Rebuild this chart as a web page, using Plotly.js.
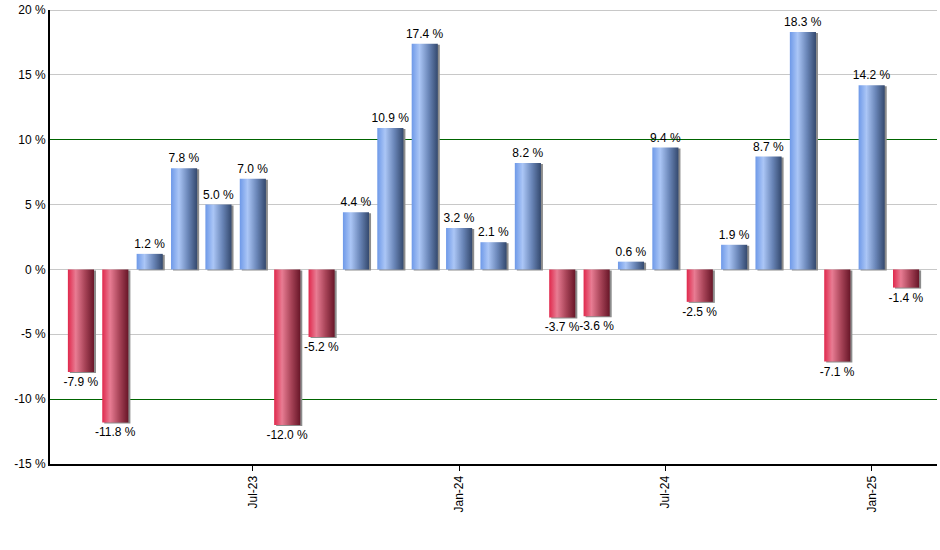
<!DOCTYPE html>
<html>
<head>
<meta charset="utf-8">
<script src="https://cdn.plot.ly/plotly-3.0.1.min.js"></script>
<style>
  body { margin: 0; background: #fff; }
  #chart { width: 940px; height: 550px; }
</style>
</head>
<body>
<div id="chart"></div>
<script>
// monthly returns, Feb-23 .. Feb-25
var months = ['Feb-23','Mar-23','Apr-23','May-23','Jun-23','Jul-23','Aug-23','Sep-23','Oct-23','Nov-23','Dec-23',
              'Jan-24','Feb-24','Mar-24','Apr-24','May-24','Jun-24','Jul-24','Aug-24','Sep-24','Oct-24','Nov-24','Dec-24',
              'Jan-25','Feb-25']
var returns = [-7.9, -11.8, 1.2, 7.8, 5.0, 7.0, -12.0, -5.2, 4.4, 10.9, 17.4,
               3.2, 2.1, 8.2, -3.7, -3.6, 0.6, 9.4, -2.5, 1.9, 8.7, 18.3, -7.1,
               14.2, -1.4]
var tick_months = ['Jul-23', 'Jan-24', 'Jul-24', 'Jan-25']
var y_ticks = [-15, -10, -5, 0, 5, 10, 15, 20]

var bars = {
	x: months,
	y: returns,
	type: 'bar',
	width: 0.76,
	text: returns.map(v => v.toFixed(1) + ' %'),
	textposition: 'outside',
	constraintext: 'none',
	cliponaxis: false,
	textfont: {family: 'Liberation Sans, Arial, sans-serif', size: 12, color: '#000'},
	marker: {color: returns.map(v => v < 0 ? '#c8304e' : '#6f94d8'), line: {width: 0}},
	hoverinfo: 'x+y'
}

// gridlines as shapes: gray, except the +/-10 guides in dark green
var grid_shapes = y_ticks.filter(v => v > -15).map(v => ({
	type: 'line', xref: 'paper', x0: 0, x1: 1, yref: 'y', y0: v, y1: v,
	line: {color: Math.abs(v) === 10 ? '#006400' : '#c8c8c8', width: 1},
	layer: 'below'
}))

var layout = {
	width: 940,
	height: 550,
	margin: {l: 50, r: 3, t: 10, b: 86},
	paper_bgcolor: '#fff',
	plot_bgcolor: '#fff',
	showlegend: false,
	font: {family: 'Liberation Sans, Arial, sans-serif', size: 12, color: '#000'},
	xaxis: {
		type: 'category',
		range: [-0.9, 24.9],
		tickvals: tick_months,
		ticktext: tick_months,
		tickangle: -90,
		ticks: 'outside',
		ticklen: 5,
		tickcolor: '#000',
		showline: true,
		linecolor: '#000',
		linewidth: 2,
		showgrid: false,
		tickfont: {size: 12}
	},
	yaxis: {
		range: [-15, 20],
		tickvals: y_ticks,
		ticktext: y_ticks.map(v => v + ' %'),
		showline: true,
		linecolor: '#000',
		linewidth: 2,
		showgrid: false,
		zeroline: false,
		ticks: '',
		tickfont: {size: 12}
	},
	shapes: grid_shapes
}

Plotly.newPlot('chart', [bars], layout, {displayModeBar: false, staticPlot: true}).then(function(gd){
	// horizontal "cylinder" gradients on the bars
	var svg = gd.querySelector('svg.main-svg')
	var ns = 'http://www.w3.org/2000/svg'
	var defs = svg.querySelector('defs') || svg.insertBefore(document.createElementNS(ns, 'defs'), svg.firstChild)
	function grad(id, stops){
		var g = document.createElementNS(ns, 'linearGradient')
		g.setAttribute('id', id)
		g.setAttribute('x1', '0'); g.setAttribute('x2', '1'); g.setAttribute('y1', '0'); g.setAttribute('y2', '0')
		stops.forEach(function(s){
			var st = document.createElementNS(ns, 'stop')
			st.setAttribute('offset', s[0])
			st.setAttribute('stop-color', s[1])
			g.appendChild(st)
		})
		defs.appendChild(g)
	}
	grad('gblue', [[0, '#6e99e8'], [0.3, '#abc6f6'], [0.65, '#6a86b8'], [1, '#34496e']])
	grad('gred', [[0, '#e0284c'], [0.3, '#e87c93'], [0.65, '#a84458'], [1, '#681628']])
	gd.querySelectorAll('.bars .point path').forEach(function(p, i){
		p.style.fill = returns[i] < 0 ? 'url(#gred)' : 'url(#gblue)'
		p.style.filter = 'drop-shadow(2px 1px 0 #8c8c8c)'
	})
	// keep the grid lines crisp
	gd.querySelectorAll('.shapelayer path, .layer-below path').forEach(function(p){
		p.style.shapeRendering = 'crispEdges'
	})
})
</script>
</body>
</html>
